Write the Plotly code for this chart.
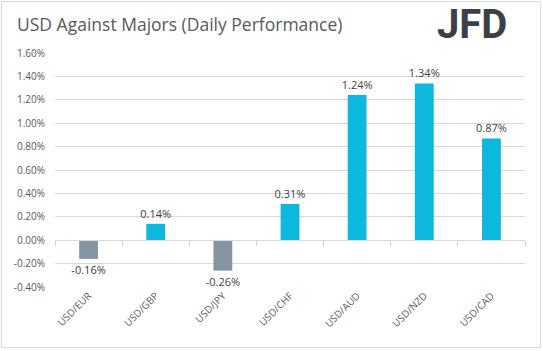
import plotly.graph_objects as go

pairs = ["USD/EUR", "USD/GBP", "USD/JPY", "USD/CHF", "USD/AUD", "USD/NZD", "USD/CAD"]
changes = [-0.16, 0.14, -0.26, 0.31, 1.24, 1.34, 0.87]
y_ticks = [-0.4, -0.2, 0.0, 0.2, 0.4, 0.6, 0.8, 1.0, 1.2, 1.4, 1.6]

POS = "#0DB8DE"
NEG = "#84959F"
colors = [POS if v >= 0 else NEG for v in changes]

W, H = 543, 351
L, R, T, B = 55, 18, 53, 64
pw, ph = W - L - R, H - T - B

def px_x(x):
    return (x - L) / pw

def px_y(y):
    return (H - B - y) / ph

fig = go.Figure()
fig.add_trace(go.Bar(
    x=pairs, y=changes, marker_color=colors, marker_line_width=0,
    text=[f"{v:.2f}%" for v in changes], textposition="outside",
    constraintext="none",
    textfont=dict(family="Open Sans", size=11, color="#404040"),
    cliponaxis=False, hoverinfo="skip",
))
fig.add_trace(go.Scatter(
    x=pairs, y=changes, xaxis="x2", mode="markers", marker=dict(opacity=0),
    hoverinfo="skip", showlegend=False,
))

fig.update_layout(
    width=W, height=H, margin=dict(l=L, r=R, t=T, b=B),
    paper_bgcolor="white", plot_bgcolor="white", showlegend=False,
    bargap=0.72,
    font=dict(family="Open Sans", color="#595959"),
    xaxis=dict(type="category", range=[-0.5, 6.5], showgrid=False, showline=False,
               ticks="", tickangle=-45, tickfont=dict(size=10, color="#595959")),
    xaxis2=dict(type="category", overlaying="x", anchor="free", position=0.2,
                side="bottom", range=[-0.5, 6.5], showgrid=False, showline=True,
                linecolor="#D9D9D9", linewidth=1, ticks="outside", tickson="boundaries",
                ticklen=5, tickwidth=1, tickcolor="#D0D0D0", showticklabels=False),
    yaxis=dict(range=[-0.4, 1.6], tickvals=y_ticks,
               ticktext=[f"{v:.2f}%" for v in y_ticks],
               showgrid=True, gridcolor="#D9D9D9", gridwidth=1, zeroline=False,
               showline=False, ticks="", ticklabelstandoff=9,
               tickfont=dict(size=10, color="#595959")),
    shapes=[dict(type="rect", xref="paper", yref="paper",
                 x0=px_x(1.5), x1=px_x(540.5), y0=px_y(347.5), y1=px_y(1.5),
                 line=dict(color="#D9D9D9", width=1), layer="below")],
    annotations=[
        dict(text="USD Against Majors (Daily Performance)", xref="paper", yref="paper",
             x=px_x(15), y=px_y(24), xanchor="left", yanchor="middle", showarrow=False,
             font=dict(family="Open Sans", size=17.5, color="#595959")),
        dict(text="<b>JFD</b>", xref="paper", yref="paper",
             x=px_x(472), y=px_y(25), xanchor="center", yanchor="middle", showarrow=False,
             font=dict(family="Roboto", size=40, color="#3B4048")),
    ],
)

fig.write_html("out.html")
